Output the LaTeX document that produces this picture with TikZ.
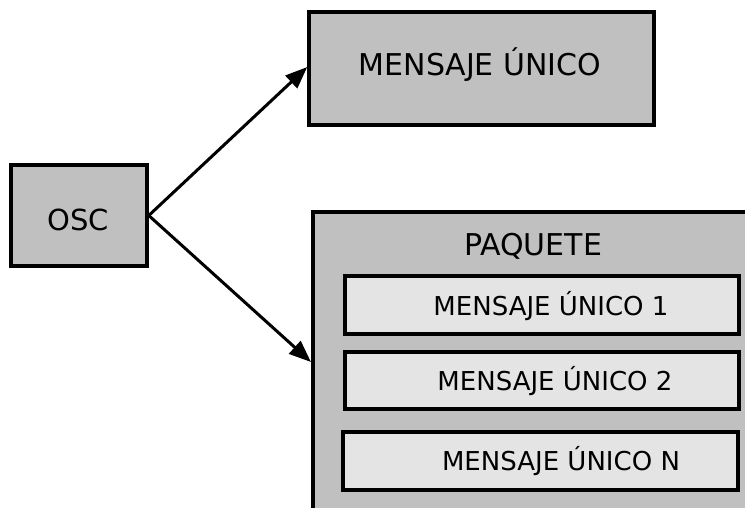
\documentclass[tikz,border=0pt]{standalone}
\usepackage{fontspec}
\setmainfont{DejaVu Sans}
\usetikzlibrary{arrows.meta}

\definecolor{boxgray}{HTML}{C0C0C0}
\definecolor{slotgray}{HTML}{E4E4E4}

\tikzset{
  outerbox/.style={draw=black, line width=3.5pt, fill=boxgray, inner sep=0pt},
  slotbox/.style={draw=black, line width=3.5pt, fill=slotgray, inner sep=0pt,
                  minimum width=394pt, minimum height=58pt},
  caption/.style={anchor=base, inner sep=0pt, text=black},
  flow/.style={line width=3pt, -{Triangle[length=22pt,width=17pt]}},
}

\begin{document}
\begin{tikzpicture}[x=1pt, y=-1pt]
  \useasboundingbox (0,0) rectangle (745,507);
  \clip (0,0) rectangle (745,507);

  % source box
  \node[outerbox, minimum width=136pt, minimum height=101pt] (osc) at (79,215.5) {};
  \node[caption, font=\fontsize{29}{34}\selectfont] (osct) at (78.5,230) {OSC};

  % single message
  \node[outerbox, minimum width=345pt, minimum height=113pt] (single) at (481.5,68.5) {};
  \node[caption, font=\fontsize{30}{36}\selectfont] (singlet) at (480,75) {MENSAJE ÚNICO};

  % bundle, running past the page edges
  \node[outerbox, minimum width=460pt, minimum height=320pt, anchor=north west] (paq) at (311,210) {};
  \node[caption, font=\fontsize{30}{36}\selectfont] (paqt) at (533,255) {PAQUETE};

  % messages inside the bundle
  \node[slotbox] (m1) at (542,305) {};
  \node[caption, font=\fontsize{26}{31}\selectfont] (m1t) at (551,315) {MENSAJE ÚNICO 1};
  \node[slotbox, minimum height=57pt] (m2) at (542,380.5) {};
  \node[caption, font=\fontsize{26}{31}\selectfont] (m2t) at (555,390) {MENSAJE ÚNICO 2};
  \node[slotbox, minimum width=395pt] (mn) at (540.5,461) {};
  \node[caption, font=\fontsize{26}{31}\selectfont] (mnt) at (561,470) {MENSAJE ÚNICO N};

  % connectors
  \coordinate (paqin) at ([yshift=-152pt]paq.north west);
  \coordinate (singlein) at ([yshift=1.5pt]single.west);
  \draw[flow] (osc.east) -- (singlein);
  \draw[flow] (osc.east) -- (paqin);
\end{tikzpicture}
\end{document}
